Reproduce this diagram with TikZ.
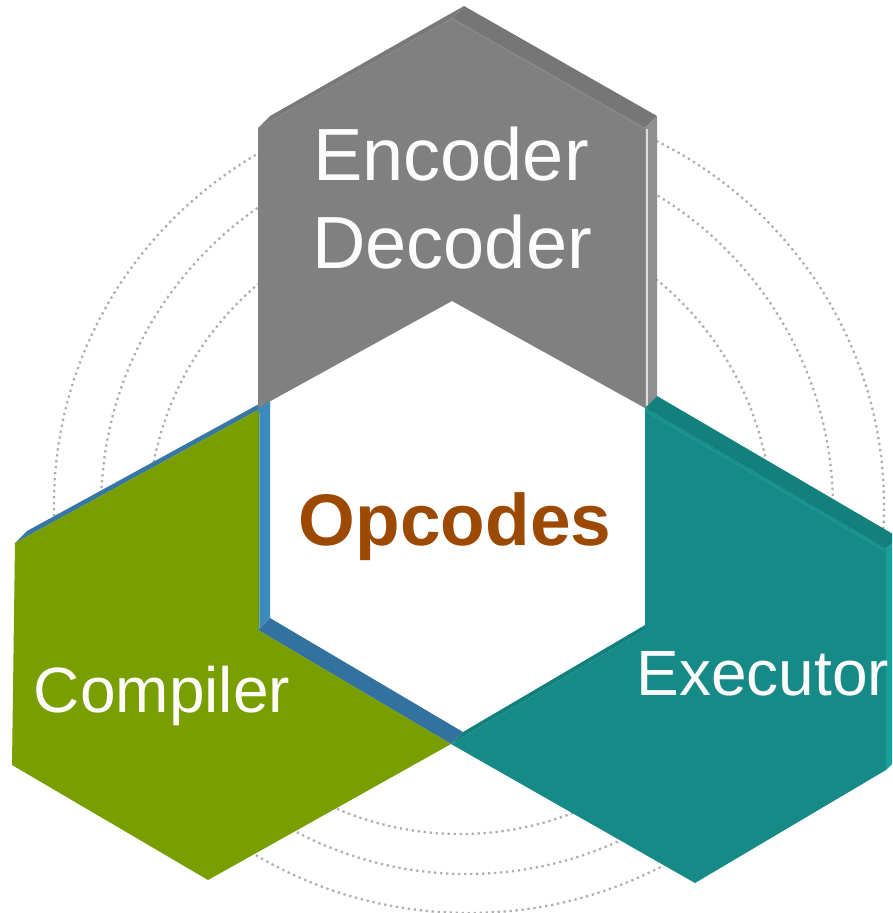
\documentclass[tikz,border=0pt]{standalone}
\usepackage{fontspec}
\setmainfont{Liberation Sans}
\definecolor{grayfront}{HTML}{808080}
\definecolor{graytop}{HTML}{797979}
\definecolor{graytopr}{HTML}{767676}
\definecolor{grayside}{HTML}{8F8F8F}
\definecolor{grayhi}{HTML}{DCDCDC}
\definecolor{grayedge}{HTML}{878787}
\definecolor{greenfront}{HTML}{789E00}
\definecolor{greenhi}{HTML}{8DC000}
\definecolor{bluetop}{HTML}{3677A6}
\definecolor{bluevert}{HTML}{3C89BE}
\definecolor{bluediag}{HTML}{33729F}
\definecolor{tealfront}{HTML}{168A87}
\definecolor{tealband}{HTML}{12807C}
\definecolor{tealside}{HTML}{16A19C}
\definecolor{tealhi}{HTML}{1A9894}
\definecolor{opcol}{HTML}{9C4A03}
\definecolor{ringcol}{HTML}{AFAFAF}
\definecolor{txtwhite}{HTML}{FDFBFB}
\begin{document}
\begin{tikzpicture}[x=1pt,y=-1pt,
  ring/.style={draw=ringcol, line width=2.3pt, dash pattern=on 2.3pt off 3.7pt},
  hiline/.style={line width=1.6pt},
  label/.style={text=txtwhite, anchor=base, inner sep=0pt},
]
\useasboundingbox (0,0) rectangle (892,913);
\clip (0,0) rectangle (892,913);
% dotted rings
\draw[ring] (469,505) ellipse [x radius=415pt, y radius=408pt];
\draw[ring] (467,508) circle [radius=366pt];
\draw[ring] (460,522) circle [radius=312pt];
% ---- green (Compiler) ----
\fill[bluetop]  (15,543) -- (258,410) -- (270,398) -- (27,531) -- cycle;
\fill[bluevert] (258,410) -- (258,630) -- (270,618) -- (270,398) -- cycle;
\fill[bluediag] (258,630) -- (451,744) -- (463,732) -- (270,618) -- cycle;
\fill[greenfront] (15,543) -- (12,765) -- (208,880) -- (451,744) -- (258,630) -- (258,410) -- cycle;
\draw[greenhi, hiline] (259.5,413) -- (259.5,629);
% ---- gray (Encoder Decoder) ----
\fill[graytop]  (258,128) -- (452,18) -- (464,6) -- (270,116) -- cycle;
\fill[graytopr] (452,18) -- (645,128) -- (657,116) -- (464,6) -- cycle;
\fill[grayside] (645,128) -- (645,408) -- (657,396) -- (657,116) -- cycle;
\fill[grayfront] (258,128) -- (452,18) -- (645,128) -- (645,408) -- (452,301) -- (258,408) -- cycle;
\draw[grayhi, line width=2pt] (647,129) -- (647,406);
\draw[grayedge, line width=1.2pt] (452,19) -- (644,128.5);
% ---- teal (Executor) ----
\fill[tealband] (645,408) -- (886,549) -- (898,537) -- (657,396) -- cycle;
\fill[tealside] (886,549) -- (886,770) -- (898,758) -- (898,537) -- cycle;
\fill[tealband] (451,744) -- (645,630) -- (657,618) -- (463,732) -- cycle;
\fill[tealfront] (645,408) -- (886,549) -- (886,770) -- (695,883) -- (451,744) -- (645,630) -- cycle;
\draw[tealhi, hiline] (645.5,411) -- (886,551.5);
% ---- texts ----
\node[label, font=\fontsize{74}{88}\selectfont] (enc) at (451,180) {Encoder};
\node[label, font=\fontsize{74}{88}\selectfont] (dec) at (452,268) {Decoder};
\node[label, font=\fontsize{64}{77}\selectfont] (comp) at (162,712) {Compiler};
\node[label, font=\fontsize{64}{77}\selectfont] (exec) at (763,695) {Executor};
\node[anchor=base, inner sep=0pt, text=opcol, font=\fontsize{73}{88}\selectfont\bfseries] (op) at (455,545) {Opcodes};
\end{tikzpicture}
\end{document}
